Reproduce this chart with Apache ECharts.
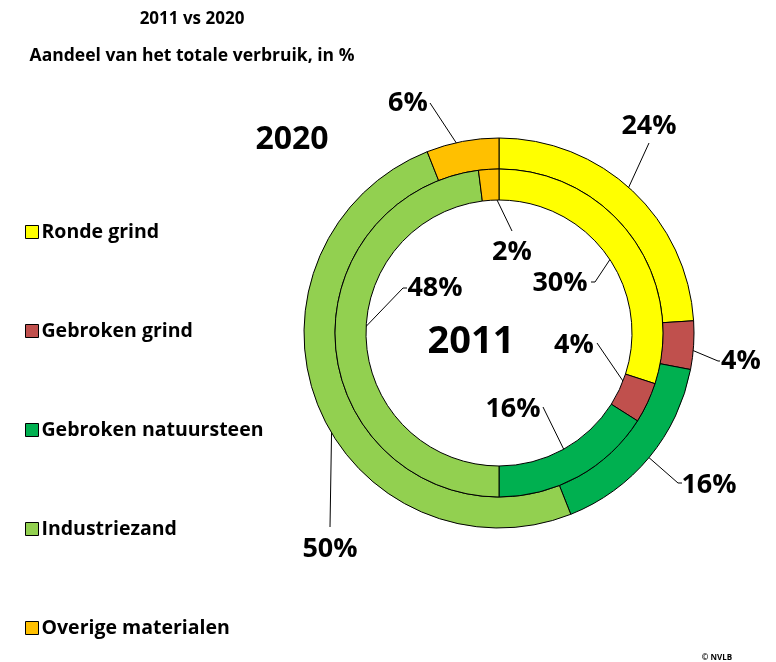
<!DOCTYPE html>
<html>
<head>
<meta charset="utf-8">
<script src="https://cdn.jsdelivr.net/npm/echarts@6/dist/echarts.min.js"></script>
<style>
html,body{margin:0;padding:0;background:#fff;}
#chart{width:776px;height:662px;}
</style>
</head>
<body>
<div id="chart"></div>
<script>
const categories = ['Ronde grind', 'Gebroken grind', 'Gebroken natuursteen', 'Industriezand', 'Overige materialen'];
const values2011 = [30, 4, 16, 48, 2];
const values2020 = [24, 4, 16, 50, 6];
const colors = ['#FFFF00', '#C0504D', '#00B050', '#92D050', '#FFC000'];

// layout of labels (text centres) and leader line bends
const outerLabelPos = [[649, 126], [741, 361], [709, 485], [330, 549], [408, 103]];
const outerLineBend = [[[649, 143], [649, 143]], [[718, 361], [720, 361]], [[678, 483], [682, 483]], [[330, 527], [330, 527]], [[430, 103], [430, 103]]];
const innerLabelPos = [[560, 283], [574, 345], [513, 409], [435, 288], [512, 252]];
const innerLineBend = [[[595, 282], [591, 282]], [[597, 343], [597, 343]], [[543, 407], [543, 407]], [[403, 288], [407, 288]], [[512, 231], [512, 231]]];

const CX = 499, CY = 333;
const OUTER = [164, 195], INNER = [133, 164];
const FONT = '"Open Sans", sans-serif';

function anchorPoint(values, idx, r) {
  const total = values.reduce((a, b) => a + b, 0);
  let cum = 0;
  for (let i = 0; i < idx; i++) cum += values[i];
  const mid = (cum + values[idx] / 2) / total * Math.PI * 2;
  return [CX + r * Math.sin(mid), CY - r * Math.cos(mid)];
}

function makeData(values) {
  return values.map((v, i) => ({ name: categories[i], value: v, itemStyle: { color: colors[i] } }));
}

const chart = echarts.init(document.getElementById('chart'));
chart.setOption({
  animation: false,
  title: [
    { text: '2011 vs 2020', left: 187, top: 6, textAlign: 'center',
      textStyle: { fontFamily: FONT, fontSize: 17, fontWeight: 'bold', color: '#000' } },
    { text: 'Aandeel van het totale verbruik, in %', left: 187, top: 42, textAlign: 'center',
      textStyle: { fontFamily: FONT, fontSize: 17.5, fontWeight: 'bold', color: '#000' } },
    { text: '2020', left: 287, top: 119, textAlign: 'center',
      textStyle: { fontFamily: FONT, fontSize: 32, fontWeight: 'bold', color: '#000' } },
    { text: '2011', left: 466, top: 318, textAlign: 'center',
      textStyle: { fontFamily: FONT, fontSize: 38, fontWeight: 'bold', color: '#000' } },
    { text: '© NVLB', left: 712, top: 649, textAlign: 'center',
      textStyle: { fontFamily: FONT, fontSize: 8, fontWeight: 'bold', color: '#000' } }
  ],
  legend: {
    orient: 'vertical',
    left: 20,
    top: 217,
    itemWidth: 13,
    itemHeight: 13,
    itemGap: 79,
    icon: 'rect',
    data: categories,
    itemStyle: { borderColor: '#000', borderWidth: 1 },
    textStyle: { fontFamily: FONT, fontSize: 19.5, fontWeight: 'bold', color: '#000', lineHeight: 20, padding: [0, 0, 0, -2] }
  },
  series: [
    {
      name: '2020', type: 'pie', center: [CX, CY], radius: OUTER,
      startAngle: 90, clockwise: true, avoidLabelOverlap: false,
      itemStyle: { borderColor: '#000', borderWidth: 1 },
      label: { show: true, formatter: '{c}%', fontFamily: FONT, fontSize: 27, fontWeight: 'bold', color: '#000' },
      labelLine: { show: true, lineStyle: { color: '#000', width: 1 } },
      labelLayout: function (p) {
        const i = p.dataIndex;
        const a = anchorPoint(values2020, i, (OUTER[0] + OUTER[1]) / 2);
        return {
          x: outerLabelPos[i][0], y: outerLabelPos[i][1], align: 'center', verticalAlign: 'middle',
          labelLinePoints: [a, outerLineBend[i][0], outerLineBend[i][1]]
        };
      },
      emphasis: { disabled: true },
      data: makeData(values2020)
    },
    {
      name: '2011', type: 'pie', center: [CX, CY], radius: INNER,
      startAngle: 90, clockwise: true, avoidLabelOverlap: false,
      itemStyle: { borderColor: '#000', borderWidth: 1 },
      label: { show: true, formatter: '{c}%', fontFamily: FONT, fontSize: 27, fontWeight: 'bold', color: '#000' },
      labelLine: { show: true, lineStyle: { color: '#000', width: 1 } },
      labelLayout: function (p) {
        const i = p.dataIndex;
        const a = anchorPoint(values2011, i, (INNER[0] + INNER[1]) / 2);
        return {
          x: innerLabelPos[i][0], y: innerLabelPos[i][1], align: 'center', verticalAlign: 'middle',
          labelLinePoints: [a, innerLineBend[i][0], innerLineBend[i][1]]
        };
      },
      emphasis: { disabled: true },
      data: makeData(values2011)
    }
  ]
});
</script>
</body>
</html>
